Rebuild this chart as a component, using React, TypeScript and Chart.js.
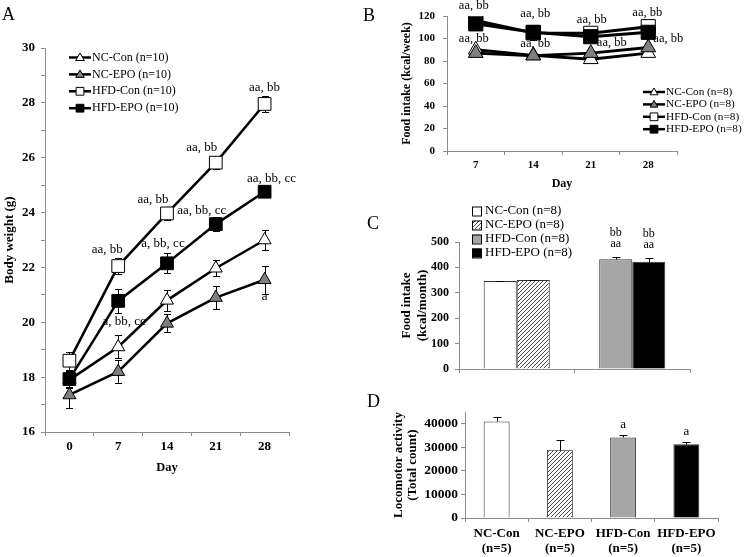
import React, { useEffect, useRef } from 'react';
import { Chart, registerables } from 'chart.js';

Chart.register(...registerables);

const SERIF = "'Liberation Serif', 'Times New Roman', Times, serif";

// ---------------- Panel A: body weight ----------------
const dayLabelsA = ['0', '7', '14', '21', '28'];
const seriesLabelsA = ['NC-Con (n=10)', 'NC-EPO (n=10)', 'HFD-Con (n=10)', 'HFD-EPO (n=10)'];
const bwNCCon = [17.9, 19.1, 20.8, 21.97, 23.0];
const bwNCEPO = [17.35, 18.2, 19.96, 20.9, 21.55];
const bwHFDCon = [18.6, 22.05, 23.97, 25.82, 27.96];
const bwHFDEPO = [17.93, 20.78, 22.15, 23.58, 24.76];
const bwNCConErr = [0.3, 0.42, 0.39, 0.3, 0.36];
const bwNCEPOErr = [0.48, 0.42, 0.33, 0.42, 0.52];
const bwHFDConErr = [0.33, 0.28, 0.24, 0.22, 0.3];
const bwHFDEPOErr = [0.3, 0.45, 0.36, 0.27, 0.1];
const bwHFDConSig = ['', 'aa, bb', 'aa, bb', 'aa, bb', 'aa, bb'];
const bwHFDEPOSig = ['', 'a, bb, cc', 'a, bb, cc', 'aa, bb, cc', 'aa, bb, cc'];
const bwNCEPOSig = ['', '', '', '', 'a'];

// ---------------- Panel B: weekly food intake ----------------
const dayLabelsB = ['7', '14', '21', '28'];
const seriesLabelsB = ['NC-Con (n=8)', 'NC-EPO (n=8)', 'HFD-Con (n=8)', 'HFD-EPO (n=8)'];
const fiNCCon = [90, 85, 81.5, 87];
const fiNCEPO = [87, 84.7, 87, 92];
const fiHFDCon = [116, 105, 104.6, 110.5];
const fiHFDEPO = [113, 105.5, 101.6, 105.5];
const fiNCConErr = [1.5, 1.5, 1.5, 1.5];
const fiNCEPOErr = [1.5, 1.5, 1.5, 1.5];
const fiHFDConErr = [2, 6.5, 2, 2];
const fiHFDEPOErr = [2, 3, 2, 2];
const fiHFDSig = ['aa, bb', 'aa, bb', 'aa, bb', 'aa, bb'];
const fiNCSig = ['aa, bb', 'aa, bb', 'aa, bb', 'aa, bb'];

// ---------------- Panel C: monthly food intake ----------------
const groupsC = ['NC', 'HFD'];
const seriesLabelsC = ['NC-Con (n=8)', 'NC-EPO (n=8)', 'HFD-Con (n=8)', 'HFD-EPO (n=8)'];
const monthlyCon = [346, 432];
const monthlyEPO = [350, 422];
const monthlyConErr = [2, 8];
const monthlyEPOErr = [2, 16];
const monthlySigUpper = ['', 'bb'];
const monthlySigLower = ['', 'aa'];

// ---------------- Panel D: locomotor activity ----------------
const groupsD = [['NC-Con', '(n=5)'], ['NC-EPO', '(n=5)'], ['HFD-Con', '(n=5)'], ['HFD-EPO', '(n=5)']];
const locomotor = [40970, 28970, 34190, 31300];
const locomotorErr = [1860, 3950, 1250, 1150];
const locomotorSig = ['', '', 'a', 'a'];
const locomotorTicks = [0, 10000, 20000, 30000, 40000];

// ---------------- styling / layout ----------------
const AXIS_COLOR = '#8c8c8c';
const GRAY_MARK = '#7f7f7f';
const GRAY_BAR = '#a6a6a6';
const W = 745;
const H = 557;

const offHFDConA = [[0, 0], [-11, -16], [-14, -14], [-14, -15], [0, -16]];
const offHFDEPOA = [[0, 0], [6, 21], [-4, -20], [-14, -14], [7, -13]];
const offNCEPOA = [[0, 0], [0, 0], [0, 0], [0, 0], [0, 17]];
const offHFDB = [[-2, -15], [2, -19], [1, -14], [-1, -14]];
const offNCB = [[-2, -14], [2, -12], [21, -10], [20, -9]];

const boldFont = (size: number, lineHeight = 1.2) => ({ family: SERIF, size, weight: 'bold' as const, lineHeight });

function xCategory(height: number, tickSize: number, tickPad: number, title: string | null, titleSize: number, titlePadBottom: number, showTicks = true, lh = 1.2): any {
  return {
    type: 'category',
    offset: true,
    grid: { offset: true, drawOnChartArea: false, color: AXIS_COLOR, tickColor: AXIS_COLOR, tickLength: 4 },
    border: { color: AXIS_COLOR, width: 1 },
    ticks: { display: showTicks, font: boldFont(tickSize, lh), color: '#000', padding: tickPad, maxRotation: 0, minRotation: 0, autoSkip: false },
    title: title
      ? { display: true, text: title, font: boldFont(titleSize), color: '#000', padding: { top: 0, bottom: titlePadBottom } }
      : { display: false },
    afterFit: (s: any) => { s.height = height; },
  };
}

function yLinear(min: number, max: number, step: number, width: number, tickSize: number, tickPad: number, title: string | string[], titleSize: number, titlePadTop: number, titleLH: number, cb?: (v: number) => string, fixedTicks?: number[]): any {
  return {
    type: 'linear',
    min, max,
    grid: { drawOnChartArea: false, color: AXIS_COLOR, tickColor: AXIS_COLOR, tickLength: 4 },
    border: { color: AXIS_COLOR, width: 1 },
    ticks: { stepSize: step, font: boldFont(tickSize), color: '#000', padding: tickPad, autoSkip: false, callback: cb ? (v: any) => cb(Number(v)) : (v: any) => String(v) },
    title: { display: true, text: title, font: boldFont(titleSize, titleLH), color: '#000', padding: { top: titlePadTop, bottom: 0 } },
    afterBuildTicks: (s: any) => { if (fixedTicks) s.ticks = fixedTicks.map((value) => ({ value })); },
    afterFit: (s: any) => { s.width = width; },
  };
}

function drawErrorBars(chart: any, both: boolean, capHalf: number) {
  const ctx = chart.ctx;
  const ys = chart.scales.y;
  ctx.save();
  ctx.strokeStyle = '#000';
  ctx.lineWidth = 1;
  chart.data.datasets.forEach((ds: any, i: number) => {
    const errs: number[] | undefined = ds.errors;
    if (!errs) return;
    const meta = chart.getDatasetMeta(i);
    meta.data.forEach((el: any, j: number) => {
      const v = ds.data[j];
      const e = errs[j];
      if (v == null || !e) return;
      const x = Math.round(el.x) + 0.5;
      const yt = Math.round(ys.getPixelForValue(v + e)) + 0.5;
      const yb = Math.round(ys.getPixelForValue(both ? v - e : v)) + 0.5;
      ctx.beginPath();
      ctx.moveTo(x, yb);
      ctx.lineTo(x, yt);
      ctx.moveTo(x - capHalf, yt);
      ctx.lineTo(x + capHalf, yt);
      if (both) {
        ctx.moveTo(x - capHalf, yb);
        ctx.lineTo(x + capHalf, yb);
      }
      ctx.stroke();
    });
  });
  ctx.restore();
}

function drawSigAtPoints(chart: any, dsIndex: number, labels: string[], offsets: number[][], font: string) {
  const ctx = chart.ctx;
  const meta = chart.getDatasetMeta(dsIndex);
  ctx.save();
  ctx.font = font;
  ctx.fillStyle = '#000';
  ctx.textAlign = 'center';
  ctx.textBaseline = 'middle';
  labels.forEach((t, j) => {
    if (!t) return;
    const el = meta.data[j];
    const [dx, dy] = offsets[j];
    ctx.fillText(t, el.x + dx, el.y + dy);
  });
  ctx.restore();
}

function drawSigAboveErr(chart: any, dsIndex: number, labels: string[], dy: number, font: string) {
  const ctx = chart.ctx;
  const ds = chart.data.datasets[dsIndex];
  const meta = chart.getDatasetMeta(dsIndex);
  const ys = chart.scales.y;
  ctx.save();
  ctx.font = font;
  ctx.fillStyle = '#000';
  ctx.textAlign = 'center';
  ctx.textBaseline = 'middle';
  labels.forEach((t, j) => {
    if (!t) return;
    const el = meta.data[j];
    const top = ys.getPixelForValue(ds.data[j] + (ds.errors ? ds.errors[j] : 0));
    ctx.fillText(t, el.x, top + dy);
  });
  ctx.restore();
}

function drawMarker(ctx: CanvasRenderingContext2D, style: string, x: number, y: number, r: number, fill: string) {
  ctx.save();
  ctx.fillStyle = fill;
  ctx.strokeStyle = '#000';
  ctx.lineWidth = 1;
  ctx.beginPath();
  if (style === 'triangle') {
    ctx.moveTo(x, y - r);
    ctx.lineTo(x + r * 0.866, y + r * 0.5);
    ctx.lineTo(x - r * 0.866, y + r * 0.5);
    ctx.closePath();
  } else {
    const s = r * 0.7071;
    ctx.rect(x - s, y - s, 2 * s, 2 * s);
  }
  ctx.fill();
  ctx.stroke();
  ctx.restore();
}

const markerStyles = ['triangle', 'triangle', 'rect', 'rect'];
const markerFills = ['#ffffff', GRAY_MARK, '#ffffff', '#000000'];

function drawLineLegend(ctx: CanvasRenderingContext2D, labels: string[], x0: number, x1: number, y0: number, dy: number, fontSize: number, triR: number, sqR: number) {
  ctx.save();
  labels.forEach((t, i) => {
    const y = y0 + i * dy;
    ctx.strokeStyle = '#000';
    ctx.lineWidth = 2.5;
    ctx.beginPath();
    ctx.moveTo(x0, y);
    ctx.lineTo(x1, y);
    ctx.stroke();
    const style = markerStyles[i];
    drawMarker(ctx, style, (x0 + x1) / 2, style === 'triangle' ? y + 0.5 : y, style === 'triangle' ? triR : sqR, markerFills[i]);
    ctx.fillStyle = '#000';
    ctx.font = `${fontSize}px ${SERIF}`;
    ctx.textAlign = 'left';
    ctx.textBaseline = 'middle';
    ctx.fillText(t, x1 + 1, y);
  });
  ctx.restore();
}

function lineDatasets(values: number[][], errors: number[][], labels: string[], triR: number, sqR: number, lineW: number) {
  return values.map((data, i) => ({
    label: labels[i],
    data,
    errors: errors[i],
    borderColor: '#000',
    borderWidth: lineW,
    tension: 0,
    fill: false,
    pointStyle: markerStyles[i],
    pointRadius: markerStyles[i] === 'triangle' ? triR : sqR,
    pointBackgroundColor: markerFills[i],
    pointBorderColor: '#000',
    pointBorderWidth: 1,
    order: 4 - i,
  }));
}

function makeHatch(canvas: HTMLCanvasElement): CanvasPattern | string {
  const c = document.createElement('canvas');
  c.width = 4;
  c.height = 4;
  const g = c.getContext('2d');
  const ctx = canvas.getContext('2d');
  if (!g || !ctx) return '#999';
  g.fillStyle = '#fff';
  g.fillRect(0, 0, 4, 4);
  g.strokeStyle = '#4a4a4a';
  g.lineWidth = 1;
  g.beginPath();
  g.moveTo(0, 4); g.lineTo(4, 0);
  g.moveTo(-1, 1); g.lineTo(1, -1);
  g.moveTo(3, 5); g.lineTo(5, 3);
  g.stroke();
  return ctx.createPattern(c, 'repeat') || '#999';
}

const baseOptions = (padding: any) => ({
  responsive: false,
  animation: false as const,
  events: [] as any[],
  layout: { padding },
  plugins: { legend: { display: false }, tooltip: { enabled: false } },
});

function buildA(): any {
  return {
    type: 'line',
    data: {
      labels: dayLabelsA,
      datasets: lineDatasets([bwNCCon, bwNCEPO, bwHFDCon, bwHFDEPO], [bwNCConErr, bwNCEPOErr, bwHFDConErr, bwHFDEPOErr], seriesLabelsA, 7.5, 9, 2.5),
    },
    options: {
      ...baseOptions({ left: 0, top: 48, right: W - 289, bottom: H - 480 }),
      scales: {
        x: xCategory(48, 13, 3, 'Day', 12.5, 5),
        y: yLinear(16, 30, 1, 45, 13, 6, 'Body weight (g)', 13, 2, 1.2, (v) => (v % 2 === 0 ? String(v) : '')),
      },
    },
    plugins: [{
      id: 'panelA',
      beforeDatasetsDraw: (chart: any) => drawErrorBars(chart, true, 3.5),
      afterDatasetsDraw: (chart: any) => {
        const f = `13px ${SERIF}`;
        drawSigAtPoints(chart, 2, bwHFDConSig, offHFDConA, f);
        drawSigAtPoints(chart, 3, bwHFDEPOSig, offHFDEPOA, f);
        drawSigAtPoints(chart, 1, bwNCEPOSig, offNCEPOA, f);
      },
      afterDraw: (chart: any) => {
        const ctx = chart.ctx;
        drawLineLegend(ctx, seriesLabelsA, 69, 91, 57.5, 16.9, 12, 5, 5.5);
        ctx.save();
        ctx.fillStyle = '#000';
        ctx.font = `18px ${SERIF}`;
        ctx.textAlign = 'left';
        ctx.textBaseline = 'alphabetic';
        ctx.fillText('A', 2, 20);
        ctx.fillText('B', 363, 21);
        ctx.fillText('C', 367, 229);
        ctx.fillText('D', 367, 407);
        ctx.restore();
      },
    }],
  };
}

function buildB(): any {
  return {
    type: 'line',
    data: {
      labels: dayLabelsB,
      datasets: lineDatasets([fiNCCon, fiNCEPO, fiHFDCon, fiHFDEPO], [fiNCConErr, fiNCEPOErr, fiHFDConErr, fiHFDEPOErr], seriesLabelsB, 8.5, 10, 3),
    },
    options: {
      ...baseOptions({ left: 380, top: 16, right: W - 677, bottom: H - 195 }),
      scales: {
        x: xCategory(44, 11, 4, 'Day', 12, 4),
        y: yLinear(0, 120, 20, 67, 11, 8, 'Food intake (kcal/week)', 12, 20, 1.2),
      },
    },
    plugins: [{
      id: 'panelB',
      beforeDatasetsDraw: (chart: any) => drawErrorBars(chart, true, 3.5),
      afterDatasetsDraw: (chart: any) => {
        const f = `12.5px ${SERIF}`;
        drawSigAtPoints(chart, 2, fiHFDSig, offHFDB, f);
        drawSigAtPoints(chart, 1, fiNCSig, offNCB, f);
      },
      afterDraw: (chart: any) => {
        drawLineLegend(chart.ctx, seriesLabelsB, 643, 665, 92, 12.4, 11.3, 4.5, 5.5);
      },
    }],
  };
}

function buildC(canvas: HTMLCanvasElement): any {
  const hatch = makeHatch(canvas);
  const legendFills: any[] = ['#ffffff', hatch, GRAY_BAR, '#000000'];
  return {
    type: 'bar',
    data: {
      labels: groupsC,
      datasets: [
        { label: 'Con', data: monthlyCon, errors: monthlyConErr, backgroundColor: ['#ffffff', GRAY_BAR], borderColor: '#333', borderWidth: 1, categoryPercentage: 0.572, barPercentage: 1 },
        { label: 'EPO', data: monthlyEPO, errors: monthlyEPOErr, backgroundColor: [hatch, '#000000'], borderColor: '#333', borderWidth: 1, categoryPercentage: 0.572, barPercentage: 1 },
      ],
    },
    options: {
      ...baseOptions({ left: 380, top: 242, right: W - 690, bottom: H - 379 }),
      scales: {
        x: xCategory(10, 12, 3, null, 12, 0, false),
        y: yLinear(0, 500, 100, 79, 12, 6, ['Food intake', '(kcal/month)'], 13, 19, 1.23),
      },
    },
    plugins: [{
      id: 'panelC',
      afterDatasetsDraw: (chart: any) => {
        drawErrorBars(chart, false, 4);
        const f = `12px ${SERIF}`;
        [0, 1].forEach((di) => {
          drawSigAboveErr(chart, di, monthlySigLower, -13, f);
          drawSigAboveErr(chart, di, monthlySigUpper, -24, f);
        });
      },
      afterDraw: (chart: any) => {
        const ctx = chart.ctx;
        ctx.save();
        seriesLabelsC.forEach((t, i) => {
          const y = 211 + i * 14;
          ctx.fillStyle = legendFills[i];
          ctx.fillRect(472, y - 4.5, 9, 9);
          ctx.strokeStyle = '#000';
          ctx.lineWidth = 1;
          ctx.strokeRect(472.5, y - 4, 9, 9);
          ctx.fillStyle = '#000';
          ctx.font = `13px ${SERIF}`;
          ctx.textAlign = 'left';
          ctx.textBaseline = 'middle';
          ctx.fillText(t, 485, y);
        });
        ctx.restore();
      },
    }],
  };
}

function buildD(canvas: HTMLCanvasElement): any {
  const hatch = makeHatch(canvas);
  return {
    type: 'bar',
    data: {
      labels: groupsD,
      datasets: [
        { label: 'Locomotor activity', data: locomotor, errors: locomotorErr, backgroundColor: ['#ffffff', hatch, GRAY_BAR, '#000000'], borderColor: '#333', borderWidth: 1, categoryPercentage: 1, barPercentage: 0.41 },
      ],
    },
    options: {
      ...baseOptions({ left: 380, top: 412, right: W - 718, bottom: 0 }),
      scales: {
        x: xCategory(H - 518, 13, 4, null, 12, 0, true, 1.15),
        y: yLinear(0, 45000, 10000, 85, 13.5, 3, ['Locomotor activity', '(Total count)'], 13, 11, 1.1, undefined, locomotorTicks),
      },
    },
    plugins: [{
      id: 'panelD',
      afterDatasetsDraw: (chart: any) => {
        drawErrorBars(chart, false, 4);
        drawSigAboveErr(chart, 0, locomotorSig, -10, `13px ${SERIF}`);
      },
    }],
  };
}

export default function App() {
  const refA = useRef<HTMLCanvasElement>(null);
  const refB = useRef<HTMLCanvasElement>(null);
  const refC = useRef<HTMLCanvasElement>(null);
  const refD = useRef<HTMLCanvasElement>(null);

  useEffect(() => {
    Chart.defaults.font.family = SERIF;
    Chart.defaults.color = '#000';
    const charts = [
      new Chart(refA.current!, buildA()),
      new Chart(refB.current!, buildB()),
      new Chart(refC.current!, buildC(refC.current!)),
      new Chart(refD.current!, buildD(refD.current!)),
    ];
    return () => charts.forEach((c) => c.destroy());
  }, []);

  const style: React.CSSProperties = { position: 'absolute', left: 0, top: 0 };
  return (
    <div style={{ position: 'absolute', left: 0, top: 0, width: W, height: H, background: '#ffffff', overflow: 'hidden' }}>
      <canvas ref={refA} width={W} height={H} style={style} />
      <canvas ref={refB} width={W} height={H} style={style} />
      <canvas ref={refC} width={W} height={H} style={style} />
      <canvas ref={refD} width={W} height={H} style={style} />
    </div>
  );
}
